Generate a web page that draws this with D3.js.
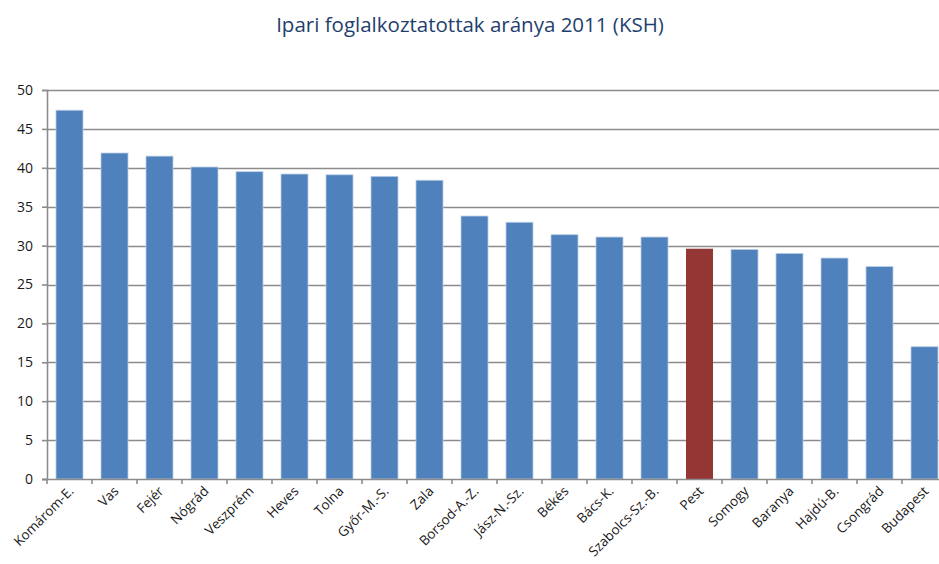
<!DOCTYPE html>
<html>
<head>
<meta charset="utf-8">
<script src="https://cdn.jsdelivr.net/npm/d3@7"></script>
<style>
	body { margin: 0; background: #fff; }
	svg { display: block; font-family: 'Open Sans', sans-serif; }
</style>
</head>
<body>
<div id="chart"></div>
<script>
const TITLE = 'Ipari foglalkoztatottak aránya 2011 (KSH)';

const counties = ['Komárom-E.', 'Vas', 'Fejér', 'Nógrád', 'Veszprém', 'Heves', 'Tolna', 'Győr-M.-S.', 'Zala',
	'Borsod-A.-Z.', 'Jász-N.-Sz.', 'Békés', 'Bács-K.', 'Szabolcs-Sz.-B.', 'Pest', 'Somogy', 'Baranya',
	'Hajdú-B.', 'Csongrád', 'Budapest'];
const shares = [47.4, 41.9, 41.5, 40.1, 39.5, 39.2, 39.1, 38.9, 38.4, 33.8, 33.0, 31.4, 31.1, 31.1,
	29.6, 29.5, 29.0, 28.4, 27.3, 17.0];
const highlighted = ['Pest'];
const yTicks = [0, 5, 10, 15, 20, 25, 30, 35, 40, 45, 50];

const WIDTH = 939, HEIGHT = 564;
const MARGIN = { top: 90, left: 47, bottom: 85 };
const PLOT_W = 900; // plot runs past the right edge, like the original crop
const PLOT_H = HEIGHT - MARGIN.top - MARGIN.bottom;

const BLUE = '#4F81BD', RED = '#943634', GRID = '#8c8c8c';

const data = counties.map((c, i) => ({ name: c, value: shares[i] }));

const svg = d3.select('#chart').append('svg')
	.attr('width', WIDTH)
	.attr('height', HEIGHT);

svg.append('text')
	.attr('x', 470)
	.attr('y', 32)
	.attr('text-anchor', 'middle')
	.attr('fill', '#1F3F6E')
	.style('font-size', '20.5px')
	.text(TITLE);

const g = svg.append('g')
	.attr('transform', 'translate(' + MARGIN.left + ',' + MARGIN.top + ')');

const x = d3.scaleBand()
	.domain(counties)
	.range([0, PLOT_W])
	.paddingInner(0.4)
	.paddingOuter(0.2);

const y = d3.scaleLinear()
	.domain([0, 50])
	.range([PLOT_H, 0]);

// gridlines
g.append('g')
	.selectAll('line')
	.data(yTicks.filter(d => d > 0))
	.enter()
	.append('line')
	.attr('x1', 0)
	.attr('x2', PLOT_W)
	.attr('y1', d => Math.round(y(d)) + 0.5)
	.attr('y2', d => Math.round(y(d)) + 0.5)
	.attr('stroke', GRID)
	.attr('stroke-width', 1.6);

// bars
g.append('g')
	.selectAll('rect')
	.data(data)
	.enter()
	.append('rect')
	.attr('x', d => x(d.name))
	.attr('y', d => y(d.value))
	.attr('width', x.bandwidth())
	.attr('height', d => PLOT_H - y(d.value))
	.attr('fill', d => highlighted.includes(d.name) ? RED : BLUE)
	.attr('stroke', d => highlighted.includes(d.name) ? 'none' : '#B9CDE5')
	.attr('stroke-width', 0.8);

// y axis
const yAxis = g.append('g')
	.call(d3.axisLeft(y).tickValues(yTicks).tickSize(5).tickPadding(9));
yAxis.select('.domain').attr('stroke', GRID).attr('stroke-width', 1.6);
yAxis.selectAll('.tick line').attr('stroke', GRID).attr('stroke-width', 1.6);
yAxis.selectAll('.tick text')
	.attr('fill', '#1a1a1a')
	.style('font-size', '14px')
	.style('font-family', "'Open Sans', sans-serif");

// x axis: ticks on band boundaries
const xAxis = g.append('g')
	.attr('transform', 'translate(0,' + PLOT_H + ')');
xAxis.append('line')
	.attr('x1', -5)
	.attr('x2', PLOT_W)
	.attr('y1', 0.5)
	.attr('y2', 0.5)
	.attr('stroke', GRID)
	.attr('stroke-width', 1.6);
xAxis.selectAll('.xtick')
	.data(d3.range(counties.length + 1))
	.enter()
	.append('line')
	.attr('class', 'xtick')
	.attr('x1', i => i * x.step())
	.attr('x2', i => i * x.step())
	.attr('y1', 0)
	.attr('y2', 5)
	.attr('stroke', GRID)
	.attr('stroke-width', 1.6);

xAxis.selectAll('.xlabel')
	.data(counties)
	.enter()
	.append('text')
	.attr('class', 'xlabel')
	.attr('text-anchor', 'end')
	.attr('fill', '#1a1a1a')
	.style('font-size', '13.5px')
	.attr('transform', d => 'translate(' + (x(d) + x.bandwidth() / 2 + 5) + ',13) rotate(-45)')
	.text(d => d);
</script>
</body>
</html>
